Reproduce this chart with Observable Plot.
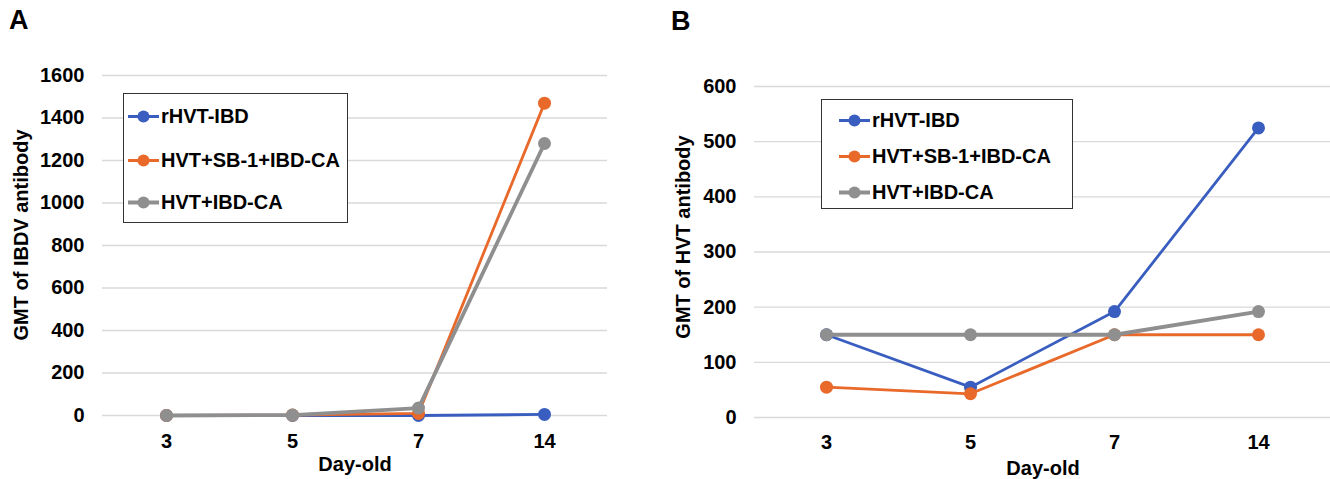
<!DOCTYPE html>
<html>
<head>
<meta charset="utf-8">
<script src="https://cdn.jsdelivr.net/npm/d3@7"></script>
<script src="https://cdn.jsdelivr.net/npm/@observablehq/plot@0.6"></script>
<style>
  body { margin: 0; background: #fff; font-family: "Liberation Sans", Arial, sans-serif; }
  #wrap { position: relative; width: 1330px; height: 479px; overflow: hidden; background: #fff; }
  .panel { position: absolute; top: 0; }
  .txt { position: absolute; font-weight: bold; font-size: 20px; color: #000; white-space: nowrap; line-height: 1; }
  .letter { font-size: 27px; }
  .ytitle { transform: translate(-50%, -50%) rotate(-90deg); }
  .xtitle { transform: translate(-50%, -50%); }
  .legend { position: absolute; border: 1.3px solid #333; background: #fff; box-sizing: border-box; }
  .legrow { position: absolute; left: 0; display: flex; align-items: center; font-weight: bold; font-size: 20px; white-space: nowrap; transform: translateY(-50%); }
  .legrow svg { display: block; margin-right: 2px; }
</style>
</head>
<body>
<div id="wrap"></div>
<script>
// ---- data ----
const days = ["3", "5", "7", "14"];
const seriesNames = ["rHVT-IBD", "HVT+SB-1+IBD-CA", "HVT+IBD-CA"];
const seriesColors = ["#3A5EBF", "#E8692A", "#8F8F8F"];
const seriesWidths = [2.8, 2.8, 3.8];

// Panel A: GMT of IBDV antibody
const ibdvTicks = [0, 200, 400, 600, 800, 1000, 1200, 1400, 1600];
const ibdvRHVT = [0, 0, 0, 5];
const ibdvSB1 = [0, 2, 10, 1470];
const ibdvHVT = [0, 2, 35, 1280];

// Panel B: GMT of HVT antibody
const hvtTicks = [0, 100, 200, 300, 400, 500, 600];
const hvtRHVT = [150, 55, 192, 525];
const hvtSB1 = [55, 43, 150, 150];
const hvtHVT = [150, 150, 150, 192];

function tidy(arrays) {
  const rows = [];
  arrays.forEach((arr, s) => arr.forEach((v, i) => rows.push({day: days[i], value: v, series: seriesNames[s]})));
  return rows;
}

function panel({values, ticks, domain, left, width, margins, padY, padX}) {
  const data = tidy(values);
  const marks = [
    Plot.gridY(ticks, {stroke: "#d9d9d9", strokeOpacity: 1, strokeWidth: 1.3}),
    Plot.axisY(ticks, {tickSize: 0, tickPadding: padY, fontSize: 20, fontWeight: "bold", label: null, fill: "#000", tickFormat: d => String(d)}),
    Plot.axisX({tickSize: 0, tickPadding: padX, fontSize: 20, fontWeight: "bold", label: null, fill: "#000"})
  ];
  seriesNames.forEach((name, s) => {
    const sub = data.filter(d => d.series === name);
    marks.push(Plot.line(sub, {x: "day", y: "value", stroke: seriesColors[s], strokeWidth: seriesWidths[s]}));
    marks.push(Plot.dot(sub, {x: "day", y: "value", fill: seriesColors[s], r: 6.5, stroke: "none"}));
  });
  const svg = Plot.plot({
    width, height: 479,
    marginLeft: margins[0], marginRight: margins[1], marginTop: margins[2], marginBottom: margins[3],
    style: {background: "transparent", fontFamily: "'Liberation Sans', Arial, sans-serif", overflow: "visible"},
    x: {type: "point", domain: days, padding: 0.5, align: 0.5},
    y: {domain, nice: false},
    marks
  });
  svg.classList.add("panel");
  svg.style.left = left + "px";
  return svg;
}

const wrap = document.getElementById("wrap");

wrap.appendChild(panel({
  values: [ibdvRHVT, ibdvSB1, ibdvHVT], ticks: ibdvTicks, domain: [0, 1600],
  left: 0, width: 660, margins: [102, 53, 75, 64], padY: 18, padX: 18
}));
wrap.appendChild(panel({
  values: [hvtRHVT, hvtSB1, hvtHVT], ticks: hvtTicks, domain: [0, 600],
  left: 660, width: 670, margins: [94, 0, 86, 62], padY: 18, padX: 17
}));

function addText(text, cls, x, y) {
  const d = document.createElement("div");
  d.className = "txt " + cls;
  d.textContent = text;
  d.style.left = x + "px";
  d.style.top = y + "px";
  wrap.appendChild(d);
}
addText("A", "letter", 9, 7);
addText("B", "letter", 671, 8);
addText("GMT of IBDV antibody", "ytitle", 21, 235);
addText("GMT of HVT antibody", "ytitle", 683, 237);
addText("Day-old", "xtitle", 355, 464);
addText("Day-old", "xtitle", 1043, 468);

function legend(x, y, w, h, rowYs, lineX) {
  const box = document.createElement("div");
  box.className = "legend";
  Object.assign(box.style, {left: x + "px", top: y + "px", width: w + "px", height: h + "px"});
  seriesNames.forEach((name, s) => {
    const row = document.createElement("div");
    row.className = "legrow";
    row.style.top = rowYs[s] + "px";
    row.style.left = lineX + "px";
    row.innerHTML = `<svg width="31" height="14"><line x1="0" y1="7" x2="31" y2="7" stroke="${seriesColors[s]}" stroke-width="${seriesWidths[s]}"/><circle cx="15.5" cy="7" r="6" fill="${seriesColors[s]}"/></svg><span>${name}</span>`;
    box.appendChild(row);
  });
  wrap.appendChild(box);
}
legend(123, 93, 225, 130, [22, 66, 108], 4);
legend(821, 99, 252, 110, [20, 56, 92], 17);
</script>
</body>
</html>
